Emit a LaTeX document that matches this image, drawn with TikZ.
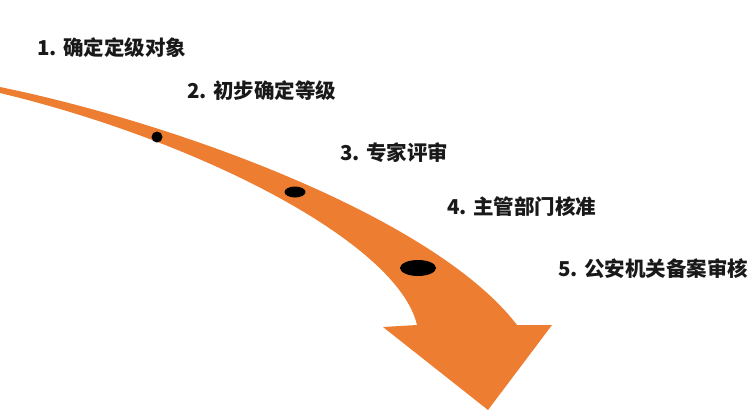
\documentclass[tikz,border=0pt]{standalone}
\usepackage{fontspec}
\setmainfont{Noto Sans CJK SC}
\usetikzlibrary{shapes.geometric}
\definecolor{arroworange}{HTML}{ED7D31}
\begin{document}
\begin{tikzpicture}[x=1pt, y=-1pt, stage/.style={anchor=west, inner sep=0pt, text=black!90, font=\fontsize{20.5}{24}\selectfont\bfseries}]
    \tikzset{dot/.style={ellipse, draw=none, fill=black, inner sep=0pt}}
    \useasboundingbox (0,0) rectangle (755,415);

    \fill[arroworange] (0,87) .. controls (180,124) and (435,218) .. (517,325)
        -- (552,325) -- (488,410) -- (383,327) -- (417,325)
        .. controls (398,243) and (200,141) .. (0,93) -- cycle;

    \node[dot, minimum width=11pt, minimum height=11pt] (1a) at (157,137) {};
    \node[dot, minimum width=21pt, minimum height=11pt] (2a) at (295,192) {};
    \node[dot, minimum width=36pt, minimum height=16pt] (3a) at (418,268) {};

    \foreach \n/\x/\y/\t in {1/37/48/{1. 确定定级对象}, 2/187/91/{2. 初步确定等级}, 3/340/153/{3. 专家评审}, 4/447/207/{4. 主管部门核准}, 5/558/269/{5. 公安机关备案审核}} {
    \node[stage] (\n) at (\x,\y) {\t};
    }
\end{tikzpicture}
\end{document}
